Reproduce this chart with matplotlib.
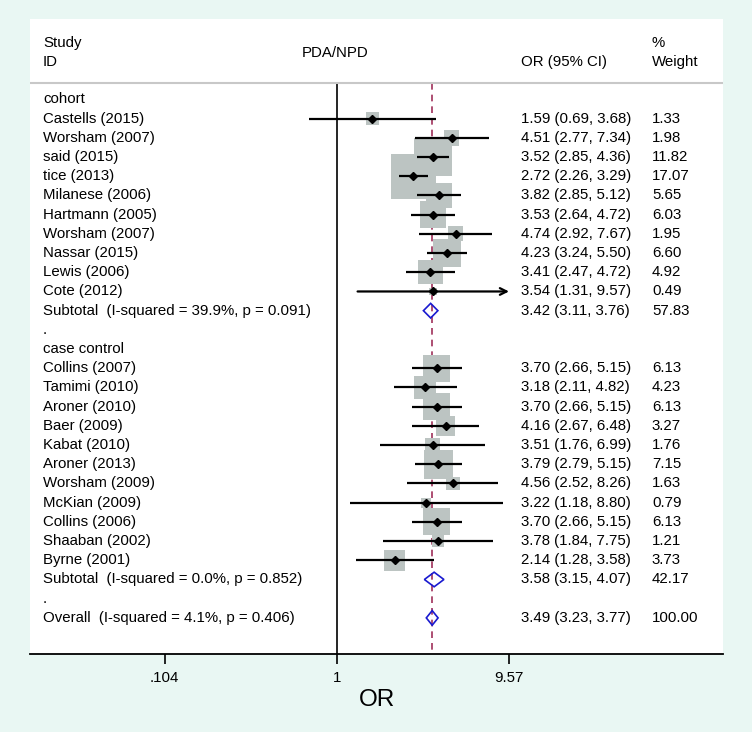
import matplotlib.pyplot as plt
from matplotlib.patches import Polygon
from matplotlib.ticker import NullLocator
import numpy as np

plt.rcParams['font.family'] = ['Liberation Sans', 'DejaVu Sans']

# cohort studies
cohort_names = ['Castells (2015)', 'Worsham (2007)', 'said (2015)', 'tice (2013)',
                'Milanese (2006)', 'Hartmann (2005)', 'Worsham (2007)', 'Nassar (2015)',
                'Lewis (2006)', 'Cote (2012)']
cohort_or = [1.59, 4.51, 3.52, 2.72, 3.82, 3.53, 4.74, 4.23, 3.41, 3.54]
cohort_lo = [0.69, 2.77, 2.85, 2.26, 2.85, 2.64, 2.92, 3.24, 2.47, 1.31]
cohort_hi = [3.68, 7.34, 4.36, 3.29, 5.12, 4.72, 7.67, 5.50, 4.72, 9.57]
cohort_wt = [1.33, 1.98, 11.82, 17.07, 5.65, 6.03, 1.95, 6.60, 4.92, 0.49]

# case control studies
cc_names = ['Collins (2007)', 'Tamimi (2010)', 'Aroner (2010)', 'Baer (2009)',
            'Kabat (2010)', 'Aroner (2013)', 'Worsham (2009)', 'McKian (2009)',
            'Collins (2006)', 'Shaaban (2002)', 'Byrne (2001)']
cc_or = [3.70, 3.18, 3.70, 4.16, 3.51, 3.79, 4.56, 3.22, 3.70, 3.78, 2.14]
cc_lo = [2.66, 2.11, 2.66, 2.67, 1.76, 2.79, 2.52, 1.18, 2.66, 1.84, 1.28]
cc_hi = [5.15, 4.82, 5.15, 6.48, 6.99, 5.15, 8.26, 8.80, 5.15, 7.75, 3.58]
cc_wt = [6.13, 4.23, 6.13, 3.27, 1.76, 7.15, 1.63, 0.79, 6.13, 1.21, 3.73]

# pooled estimates: cohort subtotal, case control subtotal, overall
pooled_labels = ['Subtotal  (I-squared = 39.9%, p = 0.091)',
                 'Subtotal  (I-squared = 0.0%, p = 0.852)',
                 'Overall  (I-squared = 4.1%, p = 0.406)']
pooled_or = [3.42, 3.58, 3.49]
pooled_lo = [3.11, 3.15, 3.23]
pooled_hi = [3.76, 4.07, 3.77]
pooled_wt = [57.83, 42.17, 100.00]

xticks = [0.104, 1, 9.57]
xticklabels = ['.104', '1', '9.57']

bg = '#e9f7f3'
box_col = '#bcc4c2'
fs = 10.8

fig = plt.figure(figsize=(7.52, 7.32), dpi=100, facecolor=bg)
ax = fig.add_axes([30 / 752, 78 / 732, 693 / 752, 635 / 732])
ax.set_facecolor('white')
ax.set_xscale('log')
ax.set_xlim(0.01774, 159.0)
ax.set_ylim(28.88, -4.19)
for s in ['top', 'left', 'right']:
    ax.spines[s].set_visible(False)
ax.spines['bottom'].set_linewidth(1.3)
ax.set_yticks([])
ax.set_xticks(xticks)
ax.set_xticklabels(xticklabels)
ax.xaxis.set_minor_locator(NullLocator())
ax.tick_params(axis='x', direction='out', length=7, width=1.2, labelsize=fs, pad=5)
ax.set_xlabel('OR', fontsize=17.5, labelpad=3)

tr = ax.get_yaxis_transform()
x_lab, x_or, x_wt = 0.0188, 0.7085, 0.8975

# header
ax.text(x_lab, -2.94, 'Study', transform=tr, fontsize=fs, va='center')
ax.text(x_lab, -1.95, 'ID', transform=tr, fontsize=fs, va='center')
ax.text(0.44, -2.42, 'PDA/NPD', transform=tr, fontsize=fs, va='center', ha='center')
ax.text(x_or, -1.95, 'OR (95% CI)', transform=tr, fontsize=fs, va='center')
ax.text(x_wt, -2.94, '%', transform=tr, fontsize=fs, va='center')
ax.text(x_wt, -1.95, 'Weight', transform=tr, fontsize=fs, va='center')
ax.axhline(-0.86, color='#c8c8c8', lw=1.5)

# reference lines
ax.vlines(1, -0.86, 28.88, color='black', lw=1.2, zorder=1)
ax.vlines(pooled_or[2], -0.86, 28.88, color='#a0305a', lw=1.2,
          linestyles=(0, (4, 3)), zorder=1)


def study_rows(names, est, lo, hi, wt, start):
    ys = np.arange(start, start + len(names))
    ax.scatter(est, ys, s=61.6 * np.array(wt), marker='s', color=box_col,
               linewidths=0, zorder=2)
    for n, e, l, h, w, y in zip(names, est, lo, hi, wt, ys):
        if h >= 9.57:
            ax.annotate('', xy=(h, y), xytext=(l, y),
                        arrowprops=dict(arrowstyle='->', lw=1.6, color='black',
                                        mutation_scale=12, shrinkA=0, shrinkB=0),
                        zorder=3)
        else:
            ax.plot([l, h], [y, y], color='black', lw=1.6, zorder=3,
                    solid_capstyle='butt')
        ax.plot(e, y, marker='D', ms=4, color='black', zorder=4)
        ax.text(x_lab, y, n, transform=tr, fontsize=fs, va='center')
        ax.text(x_or, y, f'{e:.2f} ({l:.2f}, {h:.2f})', transform=tr,
                fontsize=fs, va='center')
        ax.text(x_wt, y, f'{w:.2f}', transform=tr, fontsize=fs, va='center')


def pooled_row(i, y):
    e, l, h = pooled_or[i], pooled_lo[i], pooled_hi[i]
    d = Polygon([[l, y], [e, y - 0.38], [h, y], [e, y + 0.38]], closed=True,
                fill=False, edgecolor='#1a1ad0', lw=1.2, zorder=4)
    ax.add_patch(d)
    ax.text(x_lab, y, pooled_labels[i], transform=tr, fontsize=fs, va='center')
    ax.text(x_or, y, f'{e:.2f} ({l:.2f}, {h:.2f})', transform=tr,
            fontsize=fs, va='center')
    ax.text(x_wt, y, f'{pooled_wt[i]:.2f}', transform=tr, fontsize=fs, va='center')


ax.text(x_lab, 0, 'cohort', transform=tr, fontsize=fs, va='center')
study_rows(cohort_names, cohort_or, cohort_lo, cohort_hi, cohort_wt, 1)
pooled_row(0, 11)
ax.text(x_lab, 12, '.', transform=tr, fontsize=fs, va='center')
ax.text(x_lab, 13, 'case control', transform=tr, fontsize=fs, va='center')
study_rows(cc_names, cc_or, cc_lo, cc_hi, cc_wt, 14)
pooled_row(1, 25)
ax.text(x_lab, 26, '.', transform=tr, fontsize=fs, va='center')
pooled_row(2, 27)

fig.savefig('out.png', dpi=100, facecolor=bg)
